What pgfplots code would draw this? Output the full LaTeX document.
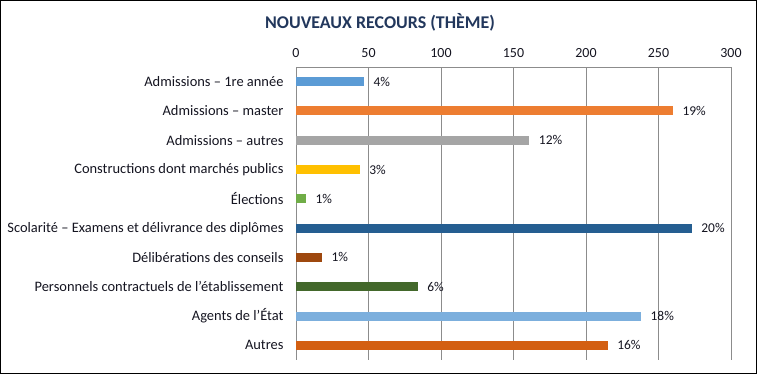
\documentclass[border=0pt]{standalone}
\usepackage{fontspec}
\setmainfont{Carlito}
\usepackage{pgfplots}
\pgfplotsset{compat=1.18}
\definecolor{c1}{HTML}{5B9BD5}
\definecolor{c2}{HTML}{ED7D31}
\definecolor{c3}{HTML}{A5A5A5}
\definecolor{c4}{HTML}{FFC000}
\definecolor{c5}{HTML}{70AD47}
\definecolor{c6}{HTML}{255E91}
\definecolor{c7}{HTML}{9E480E}
\definecolor{c8}{HTML}{43682B}
\definecolor{c9}{HTML}{7CAFDD}
\definecolor{c10}{HTML}{D35F12}
\definecolor{navy}{HTML}{22375C}
\definecolor{txt}{HTML}{141420}
\definecolor{gridc}{HTML}{8C8C8C}
\begin{document}
\begin{tikzpicture}[x=1bp,y=1bp]
\path[use as bounding box] (0,0) rectangle (757,374);
\draw[black, line width=1.2bp] (0.6,0.6) rectangle (756.4,373.4);
\node[font=\fontsize{18}{20}\selectfont\bfseries, text=navy] at (380,352) {NOUVEAUX RECOURS (THÈME)};
\begin{axis}[
  at={(296bp,14bp)}, anchor=south west,
  width=435bp, height=293bp, scale only axis,
  xmin=0, xmax=300, xtick={0,50,...,300},
  ymin=-0.5, ymax=9.5, y dir=reverse,
  ytick={0,...,9},
  yticklabels={Admissions – 1re année, Admissions – master, Admissions – autres, Constructions dont marchés publics, Élections, Scolarité – Examens et délivrance des diplômes, Délibérations des conseils, Personnels contractuels de l'établissement, Agents de l'État, Autres},
  axis x line*=top, axis y line*=left,
  axis line style={gridc, line width=0.8bp, -},
  xmajorgrids, grid style={gridc, line width=0.8bp},
  major tick length=0pt,
  xticklabel style={font=\fontsize{14}{16}\selectfont, text=txt, yshift=6bp},
  yticklabel style={font=\fontsize{14.5}{16}\selectfont, text=txt, xshift=-9bp},
  /pgf/number format/assume math mode=true,
  xbar, bar width=9bp, bar shift=0pt,
  every node near coord/.append style={font=\fontsize{13.5}{16}\selectfont, text=txt, xshift=6bp},
  clip=false,
]
\addplot[fill=c1, draw=none, nodes near coords={4\%}] coordinates {(47,0)};
\addplot[fill=c2, draw=none, nodes near coords={19\%}] coordinates {(260,1)};
\addplot[fill=c3, draw=none, nodes near coords={12\%}] coordinates {(161,2)};
\addplot[fill=c4, draw=none, nodes near coords={3\%}] coordinates {(44,3)};
\addplot[fill=c5, draw=none, nodes near coords={1\%}] coordinates {(7,4)};
\addplot[fill=c6, draw=none, nodes near coords={20\%}] coordinates {(273,5)};
\addplot[fill=c7, draw=none, nodes near coords={1\%}] coordinates {(18,6)};
\addplot[fill=c8, draw=none, nodes near coords={6\%}] coordinates {(84,7)};
\addplot[fill=c9, draw=none, nodes near coords={18\%}] coordinates {(238,8)};
\addplot[fill=c10, draw=none, nodes near coords={16\%}] coordinates {(215,9)};
\end{axis}
\end{tikzpicture}
\end{document}
